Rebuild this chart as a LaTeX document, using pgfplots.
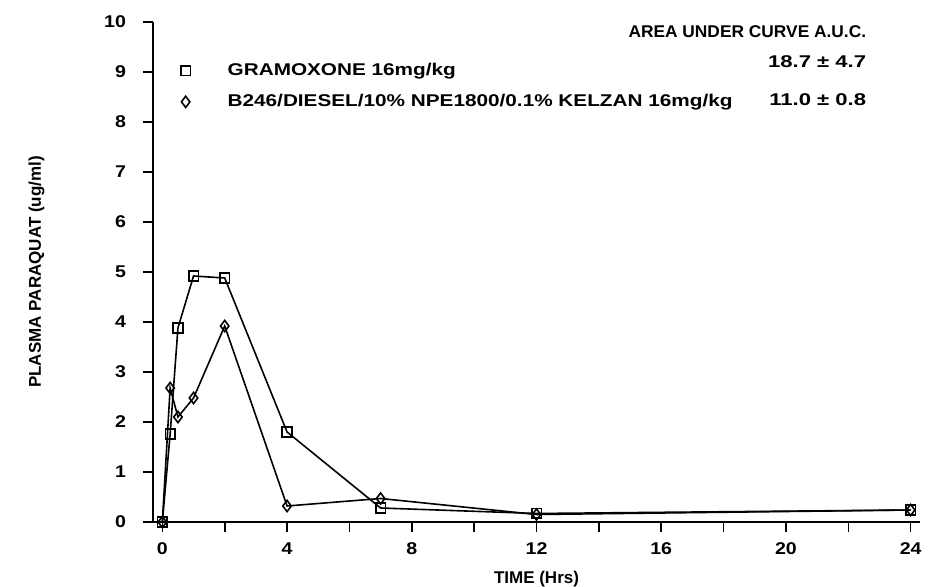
\documentclass[border=0pt]{standalone}
\usepackage{fontspec}
\setmainfont{Liberation Sans}
\newfontfamily\legfont[FakeStretch=1.22]{Liberation Sans}
\newfontfamily\hdfont[FakeStretch=1.02]{Liberation Sans}
\newfontfamily\numfont[FakeStretch=1.3]{Liberation Sans}
\newfontfamily\tkfont[FakeStretch=1.15]{Liberation Sans}
\usepackage{pgfplots}
\pgfplotsset{compat=1.18}
\begin{document}
\begin{tikzpicture}
\begin{axis}[
  name=ax,
  scale only axis,
  width=383.5pt, height=250pt,
  xmin=-0.3, xmax=24.3, ymin=0, ymax=10,
  axis lines=left,
  axis line style={-, line width=0.9pt},
  clip=false,
  xtick={0,4,8,12,16,20,24},
  minor xtick={2,6,10,14,18,22},
  ytick={0,1,...,10},
  tick align=outside,
  major tick length=5pt,
  minor tick length=5pt,
  every tick/.style={black, line width=0.8pt},
  every minor tick/.style={black, line width=0.8pt},
  /pgf/number format/assume math mode=true,
  tick label style={font=\tkfont\bfseries\fontsize{8.5}{10}\selectfont},
  xticklabel style={yshift=-2pt},
  yticklabel style={xshift=-5pt},
  xlabel={TIME (Hrs)},
  ylabel={PLASMA PARAQUAT (ug/ml)},
  label style={font=\bfseries\fontsize{8.5}{10}\selectfont},
  xlabel style={at={(ticklabel cs:0.5)}, yshift=-1pt},
  ylabel style={at={(ticklabel cs:0.5)}, yshift=23pt},
  legend style={at={(axis cs:0.35,9.35)}, anchor=north west, draw=none, fill=none,
    font=\legfont\bfseries\fontsize{8.5}{10}\selectfont, row sep=4pt},
  legend cell align=left,
  legend image code/.code={\draw[#1,only marks] plot coordinates {(0pt,0pt)}; \path[draw=none] (-3pt,0pt) -- (19pt,0pt);},
]
\addplot[black, line width=0.8pt, mark=square, mark size=2.4pt, mark options={solid, line width=0.8pt, fill=white}]
  coordinates {(0,0) (0.25,1.76) (0.5,3.88) (1,4.92) (2,4.88) (4,1.80) (7,0.28) (12,0.17) (24,0.24)};
\addlegendentry{GRAMOXONE 16mg/kg}
\addplot[black, line width=0.8pt, mark=diamond, mark size=2.8pt, mark options={solid, line width=0.8pt, fill=white}]
  coordinates {(0,0) (0.25,2.68) (0.5,2.10) (1,2.48) (2,3.92) (4,0.32) (7,0.47) (12,0.15) (24,0.24)};
\addlegendentry{B246/DIESEL/10\% NPE1800/0.1\% KELZAN 16mg/kg}
\node[font=\hdfont\bfseries\fontsize{8.5}{10}\selectfont, anchor=east] at (axis cs:22.8,9.8) {AREA UNDER CURVE A.U.C.};
\node[font=\numfont\bfseries\fontsize{8.5}{10}\selectfont, anchor=east] at (axis cs:22.8,9.2) {18.7 ± 4.7};
\node[font=\numfont\bfseries\fontsize{8.5}{10}\selectfont, anchor=east] at (axis cs:22.8,8.45) {11.0 ± 0.8};
\end{axis}
\pgfresetboundingbox
\path[use as bounding box] (-76.5pt,-32.5pt) rectangle (388pt,261pt);
\end{tikzpicture}
\end{document}
